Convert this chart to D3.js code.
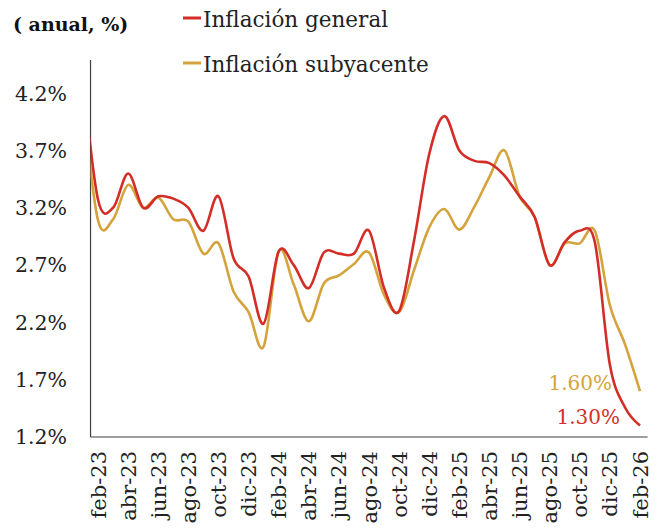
<!DOCTYPE html>
<html>
<head>
<meta charset="utf-8">
<script src="https://cdn.jsdelivr.net/npm/d3@7"></script>
<style>
  html, body { margin: 0; padding: 0; background: #ffffff; }
  svg { display: block; }
</style>
</head>
<body>
<svg id="chart" width="662" height="528"></svg>
<script>
// ---- data ----
// first month (ene-23) lies left of the plotted window and is clipped
const months = ["ene-23","feb-23","mar-23","abr-23","may-23","jun-23","jul-23","ago-23","sep-23","oct-23","nov-23","dic-23",
                "ene-24","feb-24","mar-24","abr-24","may-24","jun-24","jul-24","ago-24","sep-24","oct-24","nov-24","dic-24",
                "ene-25","feb-25","mar-25","abr-25","may-25","jun-25","jul-25","ago-25","sep-25","oct-25","nov-25","dic-25",
                "ene-26","feb-26"];
const general = [4.35,3.27,3.20,3.50,3.20,3.30,3.28,3.20,3.00,3.30,2.76,2.60,
                 2.19,2.82,2.70,2.50,2.81,2.80,2.80,3.00,2.50,2.30,2.92,3.67,
                 4.00,3.70,3.61,3.59,3.48,3.30,3.12,2.70,2.90,3.00,2.90,1.83,
                 1.46,1.30];
const subyacente = [4.15,3.09,3.10,3.40,3.20,3.29,3.10,3.08,2.80,2.89,2.47,2.29,
                    1.99,2.82,2.53,2.21,2.54,2.61,2.71,2.81,2.44,2.29,2.66,3.03,
                    3.19,3.01,3.21,3.47,3.70,3.30,3.12,2.70,2.89,2.89,3.00,2.35,
                    2.01,1.60];
const xTickLabels = ["feb-23","abr-23","jun-23","ago-23","oct-23","dic-23","feb-24","abr-24","jun-24","ago-24",
                     "oct-24","dic-24","feb-25","abr-25","jun-25","ago-25","oct-25","dic-25","feb-26"];
const yTicks = [1.2, 1.7, 2.2, 2.7, 3.2, 3.7, 4.2];
const seriesNames = ["Inflación general", "Inflación subyacente"];
const endLabels = ["1.30%", "1.60%"];

const RED = "#d42d27";
const GOLD = "#d4a33b";
const AXIS = "#404040";
const FONT = "DejaVu Serif";

const svg = d3.select("#chart");

const x = d3.scalePoint().domain(months).range([83, 640]);
const step = x.step();
const plotLeft = x(months[1]) - step / 2;
const plotRight = x(months[months.length - 1]) + step / 2;
const y = d3.scaleLinear().domain([1.2, 4.49]).range([437, 60]);

svg.append("clipPath").attr("id", "plotclip")
  .append("rect")
  .attr("x", plotLeft).attr("y", 50)
  .attr("width", plotRight - plotLeft).attr("height", 400);

// axes lines
svg.append("line")
  .attr("x1", plotLeft).attr("x2", plotLeft)
  .attr("y1", y(4.49)).attr("y2", y(1.2))
  .attr("stroke", AXIS).attr("stroke-width", 1.2);
svg.append("line")
  .attr("x1", plotLeft).attr("x2", plotRight)
  .attr("y1", y(1.2)).attr("y2", y(1.2))
  .attr("stroke", AXIS).attr("stroke-width", 1.2);

// y tick labels
svg.append("g").selectAll("text").data(yTicks).join("text")
  .attr("x", 67).attr("y", d => y(d))
  .attr("dy", "0.36em")
  .attr("text-anchor", "end")
  .attr("font-family", FONT)
  .attr("font-size", 20.5)
  .attr("fill", "#222")
  .text(d => d.toFixed(1) + "%");

// x tick labels
svg.append("g").selectAll("text").data(xTickLabels).join("text")
  .attr("transform", d => `translate(${x(d)},451) rotate(-90)`)
  .attr("text-anchor", "end")
  .attr("dy", "0.36em")
  .attr("font-family", FONT)
  .attr("font-size", 21)
  .attr("fill", "#222")
  .text(d => d);

// lines
const line = d3.line()
  .x((d, i) => x(months[i]))
  .y(d => y(d))
  .curve(d3.curveCardinal.tension(0));

const g = svg.append("g").attr("clip-path", "url(#plotclip)");
g.append("path").datum(subyacente)
  .attr("d", line).attr("fill", "none")
  .attr("stroke", GOLD).attr("stroke-width", 2.6)
  .attr("stroke-linejoin", "round");
g.append("path").datum(general)
  .attr("d", line).attr("fill", "none")
  .attr("stroke", RED).attr("stroke-width", 2.6)
  .attr("stroke-linejoin", "round");

// end labels
const last = months.length - 1;
svg.append("text")
  .attr("x", x(months[last]) - 28).attr("y", y(subyacente[last]) - 1)
  .attr("text-anchor", "end").attr("font-family", FONT)
  .attr("font-size", 20).attr("fill", GOLD)
  .text(endLabels[1]);
svg.append("text")
  .attr("x", x(months[last]) - 20).attr("y", y(general[last]) - 2)
  .attr("text-anchor", "end").attr("font-family", FONT)
  .attr("font-size", 20).attr("fill", RED)
  .text(endLabels[0]);

// title / unit
svg.append("text")
  .attr("x", 13).attr("y", 31)
  .attr("font-family", FONT)
  .attr("font-size", 19).attr("font-weight", "bold").attr("fill", "#111")
  .text("( anual, %)");

// legend
const legend = [{name: seriesNames[0], color: RED, yy: 18},
                {name: seriesNames[1], color: GOLD, yy: 63}];
const lg = svg.append("g");
lg.selectAll("line").data(legend).join("line")
  .attr("x1", 183).attr("x2", 201)
  .attr("y1", d => d.yy).attr("y2", d => d.yy)
  .attr("stroke", d => d.color).attr("stroke-width", 3);
lg.selectAll("text").data(legend).join("text")
  .attr("x", 203).attr("y", d => d.yy + 9)
  .attr("font-family", FONT)
  .attr("font-size", 21.5).attr("fill", "#222")
  .text(d => d.name);
</script>
</body>
</html>
